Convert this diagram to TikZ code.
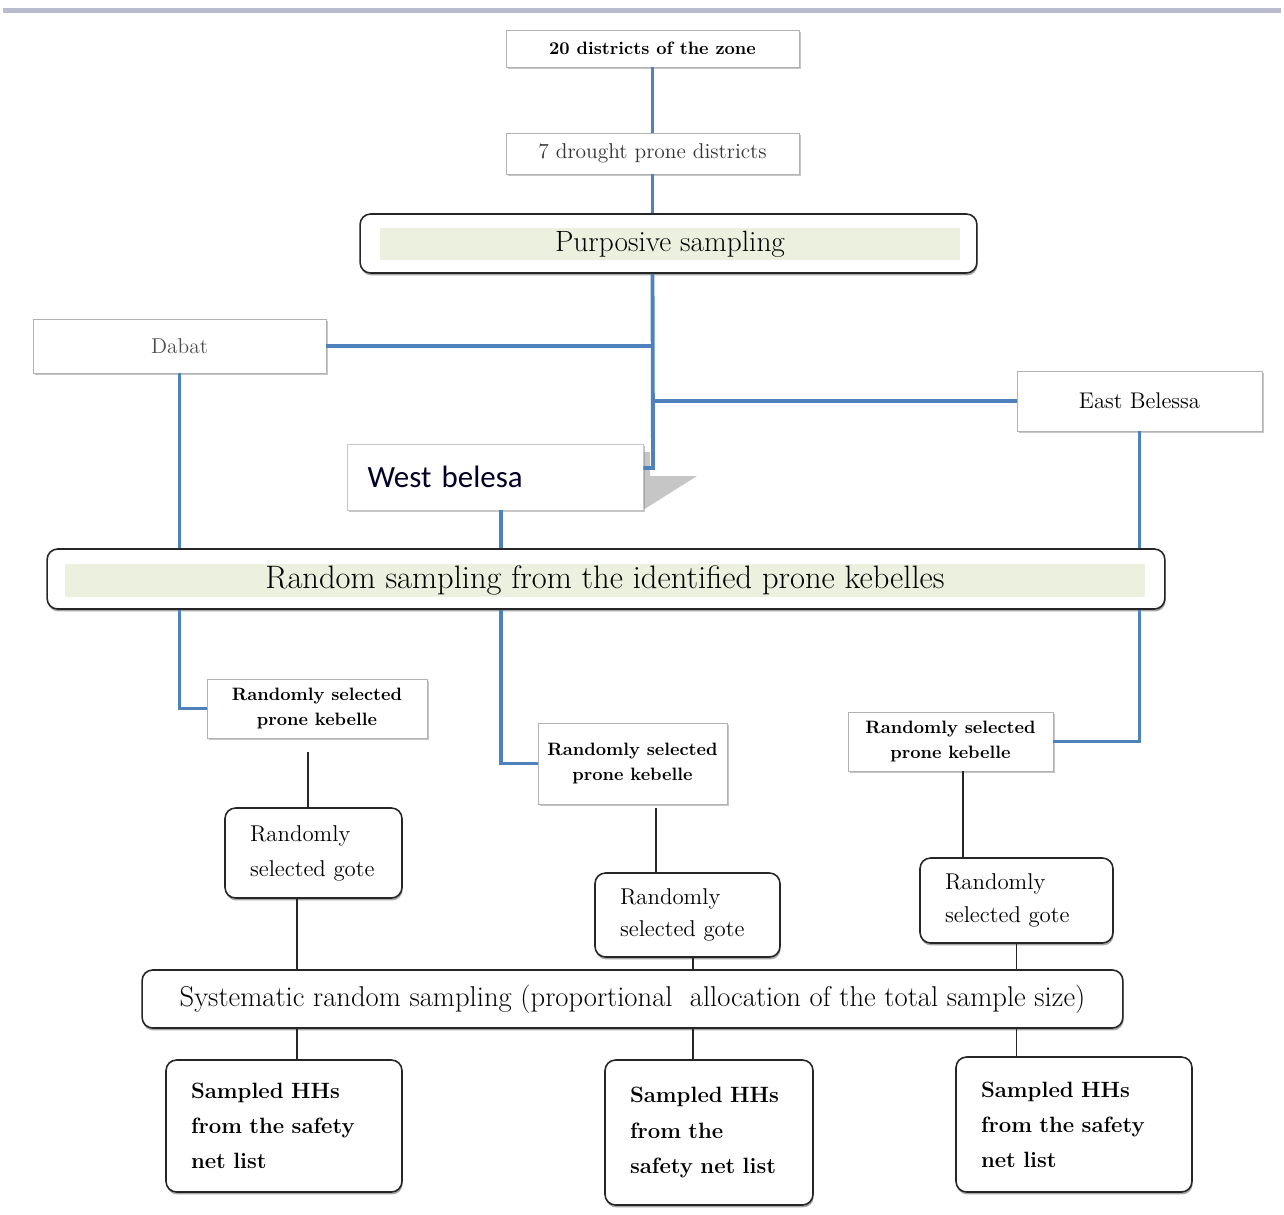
\documentclass[tikz,border=0pt]{standalone}
\usepackage{fontspec}
\newfontfamily\carlito{Carlito}
\usetikzlibrary{shadows}
\definecolor{lineblue}{RGB}{79,129,189}
\definecolor{palegreen}{RGB}{235,241,222}
\definecolor{bargray}{RGB}{184,187,204}
\tikzset{
  plainbox/.style={draw=gray!60, fill=white, line width=0.5pt, align=center,
    inner sep=1pt, drop shadow={shadow xshift=1pt, shadow yshift=-1.2pt, opacity=0.45}},
  roundbox/.style={draw=black!85, fill=white, line width=0.9pt, rounded corners=6pt,
    align=left, inner xsep=0.5cm,
    drop shadow={shadow xshift=0.4pt, shadow yshift=-1.4pt, opacity=0.7}},
  bandbox/.style={fill=palegreen, inner sep=0pt},
  blueline/.style={draw=lineblue, line width=2.2pt},
  thinline/.style={draw=black!85, line width=0.9pt},
}
\begin{document}
\begin{tikzpicture}[x=0.02cm, y=-0.02cm]
        \useasboundingbox (0,0) rectangle (1284,1214);
        % rule at the top
        \fill[bargray] (3,8) rectangle (1281,13);
        % districts
        \node[plainbox, minimum width=5.86cm, minimum height=0.74cm,
          font=\fontsize{10.2}{12}\selectfont\bfseries] (zone) at (652.5,48.5) {20 districts of the zone};
        \node[plainbox, minimum width=5.86cm, minimum height=0.82cm, text=black!80,
          font=\fontsize{12.2}{14}\selectfont] (drought) at (652.5,153.5) {7 drought prone districts};
        % purposive sampling
        \node[roundbox, minimum width=12.34cm, minimum height=1.18cm] (purp) at (668.5,243.5) {};
        \node[bandbox, minimum width=11.6cm, minimum height=0.64cm,
          font=\fontsize{16.7}{18}\selectfont] (purpband) at (670,244) {Purposive sampling};
        % the three districts
        \node[plainbox, minimum width=5.86cm, minimum height=1.08cm, text=black!70,
          font=\fontsize{12.2}{14}\selectfont] (dabat) at (179.5,346) {Dabat};
        \node[plainbox, minimum width=4.9cm, minimum height=1.2cm,
          font=\fontsize{12.9}{14}\selectfont] (east) at (1139.5,401) {East Belessa};
        \fill[gray!45] (643,452) -- (650,452) -- (650,476) -- (697,476) -- (643,510) -- cycle;
        \node[plainbox, draw=gray!45, minimum width=5.92cm, minimum height=1.32cm, align=left,
          text width=5.1cm, text=black!85!blue, drop shadow={opacity=0},
          font=\carlito\fontsize{17.6}{20}\selectfont] (west) at (495,477) {West belesa};
        % random sampling
        \node[roundbox, minimum width=22.36cm, minimum height=1.2cm] (random) at (606,579) {};
        \node[bandbox, minimum width=21.6cm, minimum height=0.66cm,
          font=\fontsize{18.5}{20}\selectfont] (randband) at (605,580)
          {Random sampling from the identified prone kebelles};
        % kebelles
        \node[plainbox, minimum width=4.4cm, minimum height=1.18cm,
          font=\fontsize{10.2}{14}\selectfont\bfseries] (keb1) at (317,708.5) {Randomly selected\\prone kebelle};
        \node[plainbox, minimum width=3.78cm, minimum height=1.62cm,
          font=\fontsize{10.2}{14}\selectfont\bfseries] (keb2) at (632.5,763.5) {Randomly selected\\prone kebelle};
        \node[plainbox, minimum width=4.1cm, minimum height=1.18cm,
          font=\fontsize{10.2}{14}\selectfont\bfseries] (keb3) at (950.5,741.5) {Randomly selected\\prone kebelle};
        % gotes
        \node[roundbox, minimum width=3.54cm, minimum height=1.8cm, text width=2.54cm,
          font=\fontsize{13}{20}\selectfont] (gote1) at (313.5,853) {Randomly\\selected gote};
        \node[roundbox, minimum width=3.7cm, minimum height=1.68cm, text width=2.7cm,
          font=\fontsize{13}{18.5}\selectfont] (gote2) at (687.5,915) {Randomly\\selected gote};
        \node[roundbox, minimum width=3.86cm, minimum height=1.7cm, text width=2.86cm,
          font=\fontsize{13}{18.5}\selectfont] (gote3) at (1016.5,900.5) {Randomly\\selected gote};
        % systematic sampling
        \node[roundbox, align=center, minimum width=19.62cm, minimum height=1.16cm,
          font=\fontsize{16.3}{18}\selectfont] (syst) at (632.5,999)
          {Systematic random sampling (proportional\ \ allocation of the total sample size)};
        % sampled households
        \node[roundbox, minimum width=4.72cm, minimum height=2.64cm, text width=3.72cm,
          font=\fontsize{12.6}{20}\selectfont\bfseries] (hh1) at (284,1126) {Sampled HHs\\from the safety\\net list};
        \node[roundbox, minimum width=4.16cm, minimum height=2.9cm, text width=3.16cm,
          font=\fontsize{12.6}{20}\selectfont\bfseries] (hh2) at (709,1132.5) {Sampled HHs\\from the\\safety net list};
        \node[roundbox, minimum width=4.72cm, minimum height=2.7cm, text width=3.72cm,
          font=\fontsize{12.6}{20}\selectfont\bfseries] (hh3) at (1074,1124.5) {Sampled HHs\\from the safety\\net list};
        % blue connectors
        \coordinate (trunk) at (653,468);
        \draw[blueline] (zone.south) -- (drought.north);
        \draw[blueline] (drought.south) -- (drought.south |- purp.north);
        \draw[blueline] (drought.south |- purp.south) -- (trunk) -- (trunk -| west.east);
        \draw[blueline] (dabat.east) -- (dabat.east -| trunk);
        \draw[blueline] (east.west) -- (east.west -| trunk);
        \draw[blueline] (dabat.south) -- (dabat.south |- random.north);
        \draw[blueline] ([xshift=0.12cm]west.south) -- ([xshift=0.12cm]west.south |- random.north);
        \draw[blueline] (east.south) -- (east.south |- random.north);
        \draw[blueline] (dabat.south |- random.south) |- (keb1.west);
        \draw[blueline] ([xshift=0.12cm]west.south |- random.south) |- (keb2.west);
        \draw[blueline] (east.south |- random.south) |- (keb3.east);
        % black connectors
        \draw[thinline] ([xshift=-0.18cm, yshift=-0.28cm]keb1.south) -- ([xshift=-0.18cm]keb1.south |- gote1.north);
        \draw[thinline] ([xshift=0.47cm, yshift=-0.08cm]keb2.south) -- ([xshift=0.47cm]keb2.south |- gote2.north);
        \draw[thinline] ([xshift=0.25cm]keb3.south) -- ([xshift=0.25cm]keb3.south |- gote3.north);
        \draw[thinline] ([xshift=-0.33cm]gote1.south) -- ([xshift=-0.33cm]gote1.south |- syst.north);
        \draw[thinline] ([xshift=0.11cm]gote2.south) -- ([xshift=0.11cm]gote2.south |- syst.north);
        \draw[thinline] (gote3.south) -- (gote3.south |- syst.north);
        \draw[thinline] ([xshift=-0.33cm]gote1.south |- syst.south) -- ([xshift=-0.33cm]gote1.south |- hh1.north);
        \draw[thinline] ([xshift=0.11cm]gote2.south |- syst.south) -- ([xshift=0.11cm]gote2.south |- hh2.north);
        \draw[thinline] (gote3.south |- syst.south) -- (gote3.south |- hh3.north);
\end{tikzpicture}
\end{document}
